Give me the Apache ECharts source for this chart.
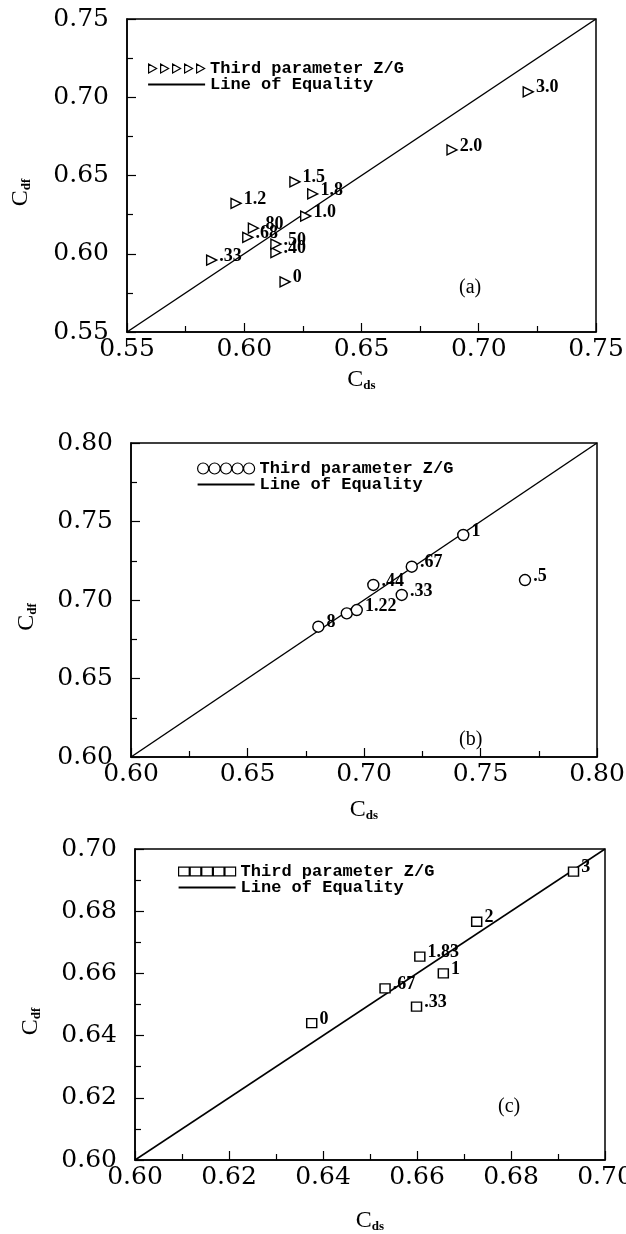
<!DOCTYPE html>
<html>
<head>
<meta charset="utf-8">
<script src="https://cdn.jsdelivr.net/npm/echarts@6/dist/echarts.min.js"></script>
<style>
  html, body { margin: 0; padding: 0; background: #fff; }
  #chart { width: 626px; height: 1234px; }
</style>
</head>
<body>
<div id="chart"></div>
<script>
// Panel (a): Cds, Cdf and the third parameter Z/G of each point
const aCds = [0.6174, 0.5861, 0.6135, 0.6135, 0.6015, 0.6039, 0.6262, 0.5965, 0.6216, 0.6292, 0.6886, 0.7211];
const aCdf = [0.5821, 0.5960, 0.6007, 0.6062, 0.6105, 0.6163, 0.6241, 0.6322, 0.6460, 0.6382, 0.6663, 0.7035];
const aZG  = ['0', '.33', '.40', '.50', '.68', '.80', '1.0', '1.2', '1.5', '1.8', '2.0', '3.0'];

// Panel (b)
const bCds = [0.6804, 0.6926, 0.6969, 0.7040, 0.7162, 0.7205, 0.7426, 0.7691];
const bCdf = [0.6830, 0.6915, 0.6936, 0.7096, 0.7032, 0.7212, 0.7414, 0.7127];
const bZG  = ['8', '', '1.22', '.44', '.33', '.67', '1', '.5'];

// Panel (c)
const cCds = [0.6376, 0.6599, 0.6532, 0.6656, 0.6606, 0.6727, 0.6933];
const cCdf = [0.6440, 0.6493, 0.6552, 0.6600, 0.6654, 0.6766, 0.6927];
const cZG  = ['0', '.33', '.67', '1', '1.83', '2', '3'];

// Axis ranges and tick steps (both axes of a panel share them)
const aRange = [0.55, 0.75], aStep = 0.05;
const bRange = [0.60, 0.80], bStep = 0.05;
const cRange = [0.60, 0.70], cStep = 0.02;

const pointName = 'Third parameter Z/G';
const lineName = 'Line of Equality';

const tickFont = 'DejaVu Serif';
const black = '#000';

function points(xs, ys, labels) {
  return xs.map((x, i) => ({ value: [x, ys[i]], name: labels[i] }));
}

function axis(kind, idx, range, step, nameGap) {
  const isX = kind === 'x';
  return {
    type: 'value',
    gridIndex: idx,
    min: range[0],
    max: range[1],
    interval: step,
    axisLine: { show: true, onZero: false, lineStyle: { color: black, width: 1.5 } },
    axisTick: { show: true, inside: true, length: 9, lineStyle: { color: black, width: 1.2 } },
    minorTick: { show: true, splitNumber: 2, length: 6, lineStyle: { color: black, width: 1.2 } },
    splitLine: { show: false },
    minorSplitLine: { show: false },
    axisLabel: {
      show: true,
      color: black,
      fontFamily: tickFont,
      fontSize: 25,
      margin: isX ? 5 : 18,
      showMinLabel: true,
      showMaxLabel: true,
      formatter: v => v.toFixed(2)
    },
    name: isX ? '{c|C}{s|ds}' : '{c|C}{s|df}',
    nameLocation: 'middle',
    nameGap: nameGap,
    nameRotate: isX ? 0 : 90,
    nameTextStyle: {
      color: black,
      // the rotated Cdf title sits a little below the middle of its axis
      padding: isX ? 0 : [0, 34, 0, 0],
      rich: {
        c: { fontSize: 24, fontFamily: 'Liberation Serif', color: black },
        s: { fontSize: 13, fontFamily: 'Liberation Serif', fontWeight: 'bold', color: black, padding: [11, 0, 0, 0] }
      }
    }
  };
}

function scatter(idx, data, symbol, size, rotate) {
  return {
    type: 'scatter',
    name: pointName,
    xAxisIndex: idx,
    yAxisIndex: idx,
    data: data,
    symbol: symbol,
    symbolSize: size,
    symbolRotate: rotate,
    itemStyle: { color: '#fff', borderColor: black, borderWidth: 1.4, opacity: 1 },
    label: {
      show: true,
      position: 'right',
      distance: 2,
      offset: [0, -4],
      formatter: '{b}',
      color: black,
      fontFamily: 'Liberation Serif',
      fontWeight: 'bold',
      fontSize: 18
    },
    emphasis: { disabled: true },
    z: 3
  };
}

function equality(idx, range) {
  return {
    type: 'line',
    name: lineName,
    xAxisIndex: idx,
    yAxisIndex: idx,
    data: [[range[0], range[0]], [range[1], range[1]]],
    symbol: 'none',
    lineStyle: { color: black, width: 1.5 },
    itemStyle: { color: black },
    silent: true,
    z: 2
  };
}

const triIcon = 'path://M0,0L8,4.5L0,9ZM12,0L20,4.5L12,9ZM24,0L32,4.5L24,9ZM36,0L44,4.5L36,9ZM48,0L56,4.5L48,9Z';
const circIcon = 'path://' + [0, 1, 2, 3, 4].map(k => {
  const x = k * 11.5;
  return 'M' + x + ',5.5a5.5,5.5 0 1,0 11,0a5.5,5.5 0 1,0 -11,0Z';
}).join('');
const sqIcon = 'path://' + [0, 1, 2, 3, 4].map(k => 'M' + (k * 12) + ',0h11v9h-11Z').join('');
const lineIcon = 'path://M0,0H48V1.6H0Z';

function legend(left, top, icon, h) {
  return {
    left: left,
    top: top,
    orient: 'vertical',
    itemGap: -1,
    itemWidth: 57,
    itemHeight: h,
    selectedMode: false,
    padding: 0,
    textStyle: { color: black, fontFamily: 'Liberation Mono', fontWeight: 'bold', fontSize: 17 },
    data: [
      { name: pointName, icon: icon, itemStyle: { color: '#fff', borderColor: black, borderWidth: 1.2 } },
      { name: lineName, icon: lineIcon, itemStyle: { color: black, borderWidth: 0 } }
    ]
  };
}

const grids = [
  { left: 127, top: 19, width: 469, height: 313 },
  { left: 131, top: 443, width: 466, height: 314 },
  { left: 135, top: 849, width: 470, height: 311 }
].map(g => Object.assign(g, {
  show: true, borderColor: black, borderWidth: 1.5, backgroundColor: 'transparent',
  containLabel: false, outerBoundsMode: 'none'
}));

const option = {
  backgroundColor: '#fff',
  animation: false,
  grid: grids,
  xAxis: [
    axis('x', 0, aRange, aStep, 36),
    axis('x', 1, bRange, bStep, 41),
    axis('x', 2, cRange, cStep, 49)
  ],
  yAxis: [
    axis('y', 0, aRange, aStep, 94),
    axis('y', 1, bRange, bStep, 92),
    axis('y', 2, cRange, cStep, 92)
  ],
  legend: [
    legend(148, 60, triIcon, 9),
    legend(197, 460, circIcon, 11),
    legend(178, 863, sqIcon, 9)
  ],
  graphic: [
    { type: 'text', left: 459, top: 278, style: { text: '(a)', font: '20px "Liberation Serif"', fill: black } },
    { type: 'text', left: 459, top: 730, style: { text: '(b)', font: '20px "Liberation Serif"', fill: black } },
    { type: 'text', left: 498, top: 1097, style: { text: '(c)', font: '20px "Liberation Serif"', fill: black } }
  ],
  series: [
    equality(0, aRange),
    scatter(0, points(aCds, aCdf, aZG), 'triangle', 10, -90),
    equality(1, bRange),
    scatter(1, points(bCds, bCdf, bZG), 'circle', 11, 0),
    equality(2, cRange),
    scatter(2, points(cCds, cCdf, cZG), 'rect', [10, 9], 0)
  ]
};

const chart = echarts.init(document.getElementById('chart'), null, { renderer: 'canvas' });
chart.setOption(option);
</script>
</body>
</html>
